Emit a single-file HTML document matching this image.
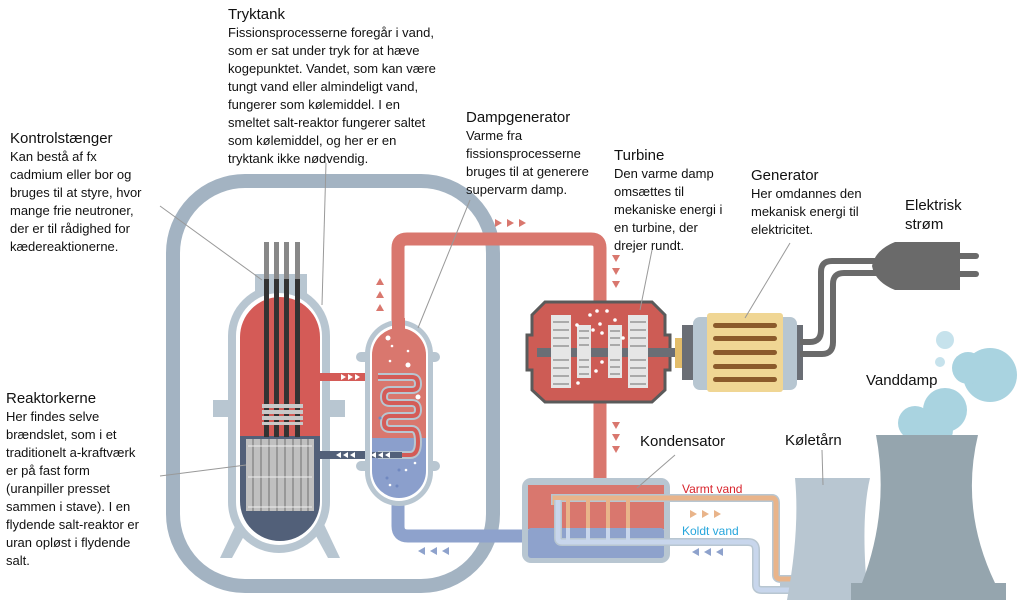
<!DOCTYPE html>
<html><head><meta charset="utf-8"><style>
body{margin:0;background:#fff;width:1020px;height:600px;overflow:hidden}
svg{display:block}
text{font-family:"Liberation Sans",sans-serif;font-size:13px;fill:#111}
.t{font-size:15px}
</style></head><body>
<svg width="1020" height="600" viewBox="0 0 1020 600">
<!-- containment -->
<rect x="173" y="181" width="320" height="405" rx="72" fill="none" stroke="#a3b3c2" stroke-width="14"/>
<!-- steam pipe -->
<path d="M398 330 V248 Q398 239 407 239 H591 Q600 239 600 248 V490" fill="none" stroke="#d9776e" stroke-width="13"/>
<!-- cold pipe -->
<path d="M398 490 V526 Q398 536 408 536 H530" fill="none" stroke="#8ea2cc" stroke-width="13"/>
<!-- reactor vessel -->
<rect x="255" y="274" width="52" height="20" fill="#b8c6d1"/>
<rect x="213" y="400" width="132" height="17" fill="#b8c6d1"/>
<polygon points="238,520 220,558 232,558 250,525" fill="#b8c6d1"/>
<polygon points="322,520 340,558 328,558 310,525" fill="#b8c6d1"/>
<rect x="228" y="285" width="102" height="268" rx="51" fill="#b8c6d1"/>
<rect x="236" y="293" width="86" height="252" rx="43" fill="#fff"/>
<clipPath id="rv"><rect x="240" y="297" width="80" height="244" rx="40"/></clipPath>
<g clip-path="url(#rv)">
<rect x="240" y="297" width="80" height="140" fill="#d45b57"/>
<rect x="240" y="436" width="80" height="110" fill="#526079"/>
</g>
<!-- rods -->
<g>
<rect x="264" y="242" width="5" height="195" fill="#888"/><rect x="264" y="279" width="5" height="158" fill="#333"/>
<rect x="274" y="242" width="5" height="195" fill="#888"/><rect x="274" y="279" width="5" height="158" fill="#333"/>
<rect x="284" y="242" width="5" height="195" fill="#888"/><rect x="284" y="279" width="5" height="158" fill="#333"/>
<rect x="295" y="242" width="5" height="195" fill="#888"/><rect x="295" y="279" width="5" height="158" fill="#333"/>
<rect x="262" y="404" width="41" height="4" fill="#c8c8c8"/><rect x="262" y="410" width="41" height="4" fill="#c8c8c8"/><rect x="262" y="416" width="41" height="4" fill="#c8c8c8"/><rect x="262" y="422" width="41" height="3" fill="#c8c8c8"/>
</g>
<rect x="246" y="439" width="68" height="72" fill="#c0c0c0"/>
<g stroke="#8a8a8a" stroke-width="1.5">
<line x1="253" y1="439" x2="253" y2="511"/><line x1="261" y1="439" x2="261" y2="511"/><line x1="269" y1="439" x2="269" y2="511"/><line x1="277" y1="439" x2="277" y2="511"/><line x1="285" y1="439" x2="285" y2="511"/><line x1="293" y1="439" x2="293" y2="511"/><line x1="301" y1="439" x2="301" y2="511"/><line x1="308" y1="439" x2="308" y2="511"/>
</g>
<g stroke="#eee" stroke-width="1"><line x1="248" y1="446" x2="312" y2="446"/><line x1="248" y1="477" x2="312" y2="477"/><line x1="248" y1="507" x2="312" y2="507"/></g>
<!-- legs pipes -->
<rect x="320" y="373" width="60" height="8" fill="#d45b57"/>
<rect x="320" y="451" width="60" height="8" fill="#526079"/>
<!-- steam generator -->
<rect x="356" y="352" width="84" height="10" rx="5" fill="#b8c6d1"/>
<rect x="356" y="461" width="84" height="10" rx="5" fill="#b8c6d1"/>
<rect x="365" y="320" width="68" height="186" rx="34" fill="#b8c6d1"/>
<rect x="370" y="325" width="58" height="176" rx="29" fill="#fff"/>
<clipPath id="sg"><rect x="372" y="328" width="54" height="170" rx="27"/></clipPath>
<g clip-path="url(#sg)"><rect x="372" y="328" width="54" height="111" fill="#d9776e"/><rect x="372" y="438" width="54" height="62" fill="#8b9fcc"/></g>
<rect x="392" y="318" width="13" height="12" fill="#d9776e"/>
<path d="M378 377 H412 Q418 377 418 384 Q418 390 412 390 H390 Q384 390 384 397 Q384 403 390 403 H412 Q418 403 418 410 Q418 416 412 416 H390 Q384 416 384 423 Q384 429 390 429 H412 Q418 429 418 442 Q418 455 410 455 H378" fill="none" stroke="#b8c6d1" stroke-width="8"/>
<path d="M378 377 H412 Q418 377 418 384 Q418 390 412 390 H390 Q384 390 384 397 Q384 403 390 403 H412 Q418 403 418 410 Q418 416 412 416 H390 Q384 416 384 423 Q384 429 390 429 H412 Q418 429 418 442 Q418 455 410 455 H378" fill="none" stroke="#d45b57" stroke-width="4"/>
<rect x="372" y="452" width="30" height="6" fill="#526079"/>
<g fill="#fff"><circle cx="388" cy="338" r="2.5"/><circle cx="408" cy="365" r="2.5"/><circle cx="418" cy="397" r="2.5"/><circle cx="392" cy="346" r="1.3"/><circle cx="408" cy="351" r="1.3"/><circle cx="390" cy="361" r="1.3"/><circle cx="390" cy="485" r="1.3"/><circle cx="406" cy="470" r="1.3"/><circle cx="415" cy="463" r="1.3"/></g>
<g fill="#7088c0"><circle cx="399" cy="470" r="1.5"/><circle cx="387" cy="478" r="1.5"/><circle cx="397" cy="486" r="1.5"/><circle cx="380" cy="418" r="1.5"/></g>
<!-- arrows -->
<g fill="#fff"><polygon points="341,374 346,377 341,380"/><polygon points="348,374 353,377 348,380"/><polygon points="355,374 360,377 355,380"/>
<polygon points="376,452 371,455 376,458"/><polygon points="383,452 378,455 383,458"/><polygon points="390,452 385,455 390,458"/>
<polygon points="341,452 336,455 341,458"/><polygon points="348,452 343,455 348,458"/><polygon points="355,452 350,455 355,458"/></g>
<g fill="#d9776e"><polygon points="380,278 376,285 384,285"/><polygon points="380,291 376,298 384,298"/><polygon points="380,304 376,311 384,311"/>
<polygon points="495,219 502,223 495,227"/><polygon points="507,219 514,223 507,227"/><polygon points="519,219 526,223 519,227"/>
<polygon points="612,255 620,255 616,262"/><polygon points="612,268 620,268 616,275"/><polygon points="612,281 620,281 616,288"/>
<polygon points="612,422 620,422 616,429"/><polygon points="612,434 620,434 616,441"/><polygon points="612,446 620,446 616,453"/></g>
<g fill="#8ea2cc"><polygon points="425,547 418,551 425,555"/><polygon points="437,547 430,551 437,555"/><polygon points="449,547 442,551 449,555"/>
<polygon points="699,548 692,552 699,556"/><polygon points="711,548 704,552 711,556"/><polygon points="723,548 716,552 723,556"/></g>
<g fill="#e9b48a"><polygon points="690,510 697,514 690,518"/><polygon points="702,510 709,514 702,518"/><polygon points="714,510 721,514 714,518"/></g>
<!-- turbine -->
<path d="M545 302 H652 L665 315 V335 H670 V370 H665 V390 L652 402 H545 L532 390 V370 H527 V335 H532 V315 Z" fill="#cd5c55" stroke="#5a5a5a" stroke-width="3"/>
<rect x="537" y="348" width="150" height="9" fill="#6a6e75"/>
<g fill="#e6e6e6"><rect x="551" y="315" width="20" height="73"/><rect x="577" y="325" width="14" height="53"/><rect x="608" y="325" width="14" height="53"/><rect x="628" y="315" width="20" height="73"/></g>
<g stroke="#aaa" stroke-width="2">
<path d="M553 322h16M553 330h16M553 338h16M553 346h16M553 360h16M553 368h16M553 376h16M553 384h16"/>
<path d="M630 322h16M630 330h16M630 338h16M630 346h16M630 360h16M630 368h16M630 376h16M630 384h16"/>
<path d="M579 331h10M579 338h10M579 345h10M579 360h10M579 367h10M579 374h10"/>
<path d="M610 331h10M610 338h10M610 345h10M610 360h10M610 367h10M610 374h10"/></g>
<g fill="#fff"><circle cx="590" cy="315" r="1.8"/><circle cx="597" cy="311" r="1.8"/><circle cx="607" cy="311" r="1.8"/><circle cx="615" cy="320" r="1.8"/><circle cx="577" cy="325" r="1.8"/><circle cx="600" cy="324" r="1.8"/><circle cx="593" cy="330" r="1.8"/><circle cx="602" cy="333" r="1.8"/><circle cx="623" cy="338" r="1.8"/><circle cx="602" cy="362" r="1.8"/><circle cx="596" cy="371" r="1.8"/><circle cx="578" cy="383" r="1.8"/></g>
<rect x="675" y="338" width="9" height="30" fill="#e3bd6a"/>
<rect x="682" y="325" width="18" height="55" fill="#6a6e75"/>
<!-- generator -->
<rect x="693" y="317" width="104" height="73" rx="7" fill="#b7c6d1"/>
<rect x="707" y="313" width="76" height="79" rx="3" fill="#f0d694"/>
<g fill="#8b5a2b"><rect x="713" y="323" width="64" height="5" rx="2.5"/><rect x="713" y="336" width="64" height="5" rx="2.5"/><rect x="713" y="350" width="64" height="5" rx="2.5"/><rect x="713" y="364" width="64" height="5" rx="2.5"/><rect x="713" y="377" width="64" height="5" rx="2.5"/></g>
<rect x="797" y="325" width="6" height="55" fill="#6a6e75"/>
<!-- cables -->
<path d="M800 342 H810 Q821 342 821 330 V272 Q821 261 832 261 H900" fill="none" stroke="#6a6a6a" stroke-width="6"/>
<path d="M800 354 H822 Q833 354 833 342 V284 Q833 273 844 273 H900" fill="none" stroke="#6a6a6a" stroke-width="6"/>
<path d="M895 242 H960 V290 H895 Q875 282 872 266 Q875 250 895 242 Z" fill="#6a6a6a"/>
<rect x="955" y="253" width="24" height="6" rx="3" fill="#6a6a6a"/><rect x="955" y="271" width="24" height="6" rx="3" fill="#6a6a6a"/>
<!-- condenser -->
<rect x="522" y="478" width="148" height="85" rx="9" fill="#b8c6d1"/>
<rect x="528" y="485" width="136" height="44" fill="#d9776e"/>
<rect x="528" y="528" width="136" height="30" rx="3" fill="#8ea2cc"/>
<path d="M780 583 H793 M555 505 V498 H772 Q776 498 776 503 V575 Q776 579 781 579 H795" fill="none" stroke="#b8c6d1" stroke-width="8"/>
<path d="M555 505 V498 H772 Q776 498 776 503 V575 Q776 579 781 579 H795" fill="none" stroke="#e9b48a" stroke-width="5"/>
<path d="M558 500 V538 Q558 542 562 542 H748 Q756 542 756 550 V585 Q756 590 762 590 H795" fill="none" stroke="#b8c6d1" stroke-width="8"/>
<path d="M558 500 V538 Q558 542 562 542 H748 Q756 542 756 550 V585 Q756 590 762 590 H795" fill="none" stroke="#c8d6ec" stroke-width="5"/>
<g stroke="#e9b48a" stroke-width="4"><line x1="568" y1="500" x2="568" y2="528"/><line x1="588" y1="500" x2="588" y2="528"/><line x1="608" y1="500" x2="608" y2="528"/><line x1="628" y1="500" x2="628" y2="528"/></g>
<g stroke="#c8d6ec" stroke-width="4"><line x1="568" y1="528" x2="568" y2="540"/><line x1="588" y1="528" x2="588" y2="540"/><line x1="608" y1="528" x2="608" y2="540"/><line x1="628" y1="528" x2="628" y2="540"/></g>
<!-- towers -->
<path d="M795 478 H870 Q860 520 868 600 H787 Q800 530 795 478 Z" fill="#b8c6d1"/>
<g fill="#a9d3e0"><circle cx="945" cy="340" r="9" fill="#c6e2ec"/><circle cx="940" cy="362" r="5" fill="#c6e2ec"/><circle cx="990" cy="375" r="27"/><circle cx="968" cy="368" r="16"/><circle cx="945" cy="410" r="22"/><circle cx="915" cy="423" r="17"/><circle cx="935" cy="430" r="18"/></g>
<path d="M876 435 H978 Q960 510 995 583 H862 Q890 510 876 435 Z" fill="#95a5ae"/>
<rect x="851" y="583" width="155" height="17" fill="#95a5ae"/>
<!-- leader lines -->
<g stroke="#999" stroke-width="1"><line x1="160" y1="206" x2="262" y2="280"/><line x1="326" y1="163" x2="322" y2="305"/><line x1="470" y1="200" x2="418" y2="328"/><line x1="652" y1="250" x2="640" y2="310"/><line x1="790" y1="243" x2="745" y2="318"/><line x1="160" y1="476" x2="246" y2="465"/><line x1="675" y1="455" x2="637" y2="488"/><line x1="822" y1="450" x2="823" y2="485"/></g>
<!-- text -->
<text class="t" x="228" y="19">Tryktank</text>
<text x="228" y="37">Fissionsprocesserne foregår i vand,</text>
<text x="228" y="55">som er sat under tryk for at hæve</text>
<text x="228" y="73">kogepunktet. Vandet, som kan være</text>
<text x="228" y="91">tungt vand eller almindeligt vand,</text>
<text x="228" y="109">fungerer som kølemiddel. I en</text>
<text x="228" y="127">smeltet salt-reaktor fungerer saltet</text>
<text x="228" y="145">som kølemiddel, og her er en</text>
<text x="228" y="163">tryktank ikke nødvendig.</text>
<text class="t" x="10" y="143">Kontrolstænger</text>
<text x="10" y="161">Kan bestå af fx</text>
<text x="10" y="179">cadmium eller bor og</text>
<text x="10" y="197">bruges til at styre, hvor</text>
<text x="10" y="215">mange frie neutroner,</text>
<text x="10" y="233">der er til rådighed for</text>
<text x="10" y="251">kædereaktionerne.</text>
<text class="t" x="6" y="403">Reaktorkerne</text>
<text x="6" y="421">Her findes selve</text>
<text x="6" y="439">brændslet, som i et</text>
<text x="6" y="457">traditionelt a-kraftværk</text>
<text x="6" y="475">er på fast form</text>
<text x="6" y="493">(uranpiller presset</text>
<text x="6" y="511">sammen i stave). I en</text>
<text x="6" y="529">flydende salt-reaktor er</text>
<text x="6" y="547">uran opløst i flydende</text>
<text x="6" y="565">salt.</text>
<text class="t" x="466" y="122">Dampgenerator</text>
<text x="466" y="140">Varme fra</text>
<text x="466" y="158">fissionsprocesserne</text>
<text x="466" y="176">bruges til at generere</text>
<text x="466" y="194">supervarm damp.</text>
<text class="t" x="614" y="160">Turbine</text>
<text x="614" y="178">Den varme damp</text>
<text x="614" y="196">omsættes til</text>
<text x="614" y="214">mekaniske energi i</text>
<text x="614" y="232">en turbine, der</text>
<text x="614" y="250">drejer rundt.</text>
<text class="t" x="751" y="180">Generator</text>
<text x="751" y="198">Her omdannes den</text>
<text x="751" y="216">mekanisk energi til</text>
<text x="751" y="234">elektricitet.</text>
<text class="t" x="905" y="210">Elektrisk</text>
<text class="t" x="905" y="229">strøm</text>
<text class="t" x="866" y="385">Vanddamp</text>
<text class="t" x="785" y="445">Køletårn</text>
<text class="t" x="640" y="446">Kondensator</text>
<text x="682" y="493" style="fill:#d8242c;font-size:12px">Varmt vand</text>
<text x="682" y="535" style="fill:#26a6dc;font-size:12px">Koldt vand</text>
</svg>
</body></html>
